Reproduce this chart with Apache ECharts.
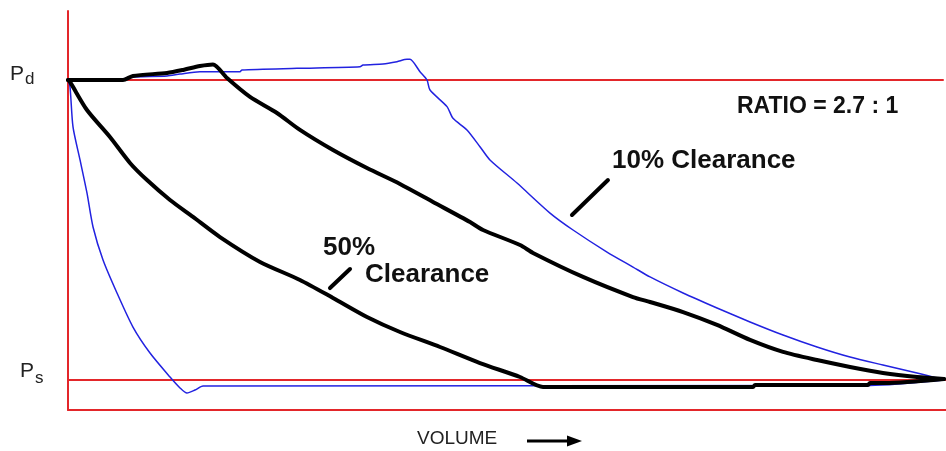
<!DOCTYPE html>
<html>
<head>
<meta charset="utf-8">
<script src="https://cdn.jsdelivr.net/npm/echarts@6/dist/echarts.min.js"></script>
<style>
  html, body { margin: 0; padding: 0; background: #fff; }
  #pv-chart { width: 946px; height: 451px; }
</style>
</head>
<body>
<div id="pv-chart"></div>
<script>
  // volume in % of stroke, pressure in units of suction pressure (Ps = 1, Pd = 2.7)
  const suctionP = 1.0
  const dischargeP = 2.7

  // 10% clearance cycle
  const blueTop = [
    [0, 2.700], [6.26, 2.706], [7.06, 2.717], [11.28, 2.723], [12.76, 2.734], [15.03, 2.747],
    [19.59, 2.747], [19.82, 2.757], [26.08, 2.766], [33.26, 2.775], [33.6, 2.785], [35.88, 2.791],
    [37.47, 2.804], [38.61, 2.817], [38.95, 2.817], [40.09, 2.747], [40.89, 2.700], [41.23, 2.643],
    [43.17, 2.549], [43.85, 2.483], [45.44, 2.417], [46.92, 2.322], [48.06, 2.247], [51.14, 2.116],
    [54.90, 1.946], [57.52, 1.850], [61.39, 1.725], [64.35, 1.640], [66.29, 1.584], [70.05, 1.493],
    [73.92, 1.408], [77.68, 1.329], [81.44, 1.255], [85.31, 1.187], [89.07, 1.130], [92.82, 1.085],
    [96.70, 1.040], [99.77, 1.000]
  ]
  const blueBottom = [
    [0, 2.700], [0.23, 2.660], [0.57, 2.434], [1.37, 2.247], [2.16, 2.060], [2.85, 1.867],
    [3.99, 1.680], [5.58, 1.493], [7.40, 1.300], [9.34, 1.153], [11.62, 1.017], [12.76, 0.955],
    [13.55, 0.926], [14.46, 0.943], [15.38, 0.966], [91.34, 0.969], [99.77, 1.000]
  ]

  // 50% clearance cycle
  const blackTop = [
    [0, 2.700], [6.26, 2.700], [7.40, 2.723], [11.28, 2.740], [13.10, 2.757], [15.03, 2.779],
    [16.51, 2.788], [18.11, 2.711], [20.73, 2.604], [23.80, 2.513], [26.42, 2.417], [30.18, 2.303],
    [34.05, 2.201], [37.81, 2.111], [41.57, 2.009], [45.79, 1.895], [47.27, 1.850], [51.48, 1.765],
    [52.96, 1.720], [58.66, 1.584], [64.35, 1.470], [66.29, 1.442], [70.05, 1.385], [73.92, 1.312],
    [77.68, 1.227], [81.44, 1.159], [85.31, 1.113], [89.07, 1.074], [92.82, 1.040], [96.70, 1.017],
    [99.77, 1.006]
  ]
  const blackBottom = [
    [0, 2.700], [0.23, 2.689], [2.16, 2.530], [4.78, 2.377], [7.06, 2.230], [9.00, 2.133],
    [11.62, 2.020], [14.24, 1.924], [17.31, 1.810], [21.87, 1.669], [26.42, 1.567], [30.18, 1.465],
    [34.05, 1.357], [37.81, 1.272], [42.37, 1.187], [46.92, 1.096], [51.48, 1.017], [54.10, 0.960],
    [78.02, 0.960], [78.25, 0.972], [91.12, 0.972], [91.34, 0.983], [93.05, 0.983], [99.77, 1.006]
  ]

  // reference pressure lines and label pointers
  const pdLine = [[0, dischargeP], [99.66, dischargeP]]
  const psLine = [[0, suctionP], [100, suctionP]]
  const pointer10 = [[57.40, 1.935], [61.50, 2.133]]
  const pointer50 = [[29.84, 1.521], [32.12, 1.629]]

  const red = '#e3262a'
  const blue = '#2222e0'
  const black = '#000'

  function line(data, color, width, z, smooth) {
    return {
      type: 'line',
      data: data,
      showSymbol: false,
      symbol: 'none',
      silent: true,
      smooth: smooth || false,
      z: z,
      lineStyle: { color: color, width: width, join: 'round', cap: 'round' }
    }
  }

  const myChart = echarts.init(document.getElementById('pv-chart'))
  myChart.setOption({
    animation: false,
    backgroundColor: '#fff',
    grid: { left: 68, right: 0, top: 11, bottom: 41 },
    xAxis: {
      type: 'value',
      min: 0,
      max: 100,
      axisLine: { show: true, onZero: false, lineStyle: { color: red, width: 2 } },
      axisTick: { show: false },
      axisLabel: { show: false },
      splitLine: { show: false }
    },
    yAxis: {
      type: 'value',
      min: 0.83,
      max: 3.091,
      axisLine: { show: true, onZero: false, lineStyle: { color: red, width: 2 } },
      axisTick: { show: false },
      axisLabel: { show: false },
      splitLine: { show: false }
    },
    graphic: [
      {
        type: 'text', left: 10, top: 64,
        style: {
          text: '{p|P}{s|d}',
          rich: {
            p: { fontFamily: 'Liberation Sans', fontSize: 21, fill: '#222' },
            s: { fontFamily: 'Liberation Sans', fontSize: 17, fill: '#222', padding: [10, 0, 0, 1] }
          }
        }
      },
      {
        type: 'text', left: 20, top: 361,
        style: {
          text: '{p|P}{s|s}',
          rich: {
            p: { fontFamily: 'Liberation Sans', fontSize: 21, fill: '#222' },
            s: { fontFamily: 'Liberation Sans', fontSize: 17, fill: '#222', padding: [14, 0, 0, 1] }
          }
        }
      },
      {
        type: 'text', left: 737, top: 95,
        style: { text: 'RATIO = 2.7 : 1', font: 'bold 23px "Liberation Sans"', fill: '#111' }
      },
      {
        type: 'text', left: 612, top: 148,
        style: { text: '10% Clearance', font: 'bold 26px "Liberation Sans"', fill: '#111' }
      },
      {
        type: 'text', left: 323, top: 235,
        style: { text: '50%', font: 'bold 26px "Liberation Sans"', fill: '#111' }
      },
      {
        type: 'text', left: 365, top: 262,
        style: { text: 'Clearance', font: 'bold 26px "Liberation Sans"', fill: '#111' }
      },
      {
        type: 'text', left: 417, top: 429,
        style: { text: 'VOLUME', font: '19px "Liberation Sans"', fill: '#222' }
      },
      {
        type: 'line', shape: { x1: 527, y1: 441, x2: 570, y2: 441 },
        style: { stroke: '#000', lineWidth: 3 }
      },
      {
        type: 'polygon', shape: { points: [[567, 435.5], [582, 441], [567, 446.5]] },
        style: { fill: '#000' }
      }
    ],
    series: [
      line(pdLine, red, 2, 1),
      line(psLine, red, 2, 1),
      line(blueTop, blue, 1.5, 2, 0.25),
      line(blueBottom, blue, 1.5, 2, 0.25),
      line(blackTop, black, 4, 3, 0.25),
      line(blackBottom, black, 4, 3, 0.25),
      line(pointer10, black, 4, 3),
      line(pointer50, black, 4, 3)
    ]
  })
</script>
</body>
</html>
